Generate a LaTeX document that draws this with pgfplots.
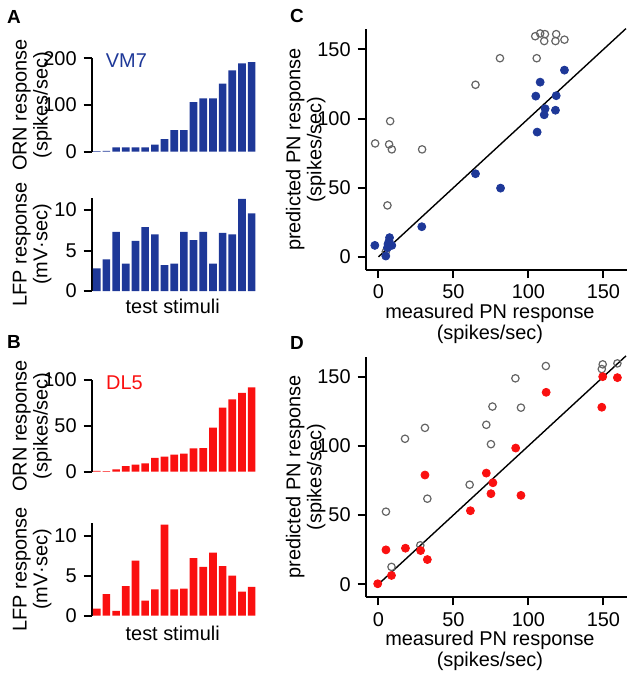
\documentclass[border=0pt]{standalone}
\usepackage{pgfplots}
\pgfplotsset{compat=1.18}
\usepackage{fontspec}
\setmainfont{Liberation Sans}

\definecolor{vmblue}{RGB}{30,56,152}
\definecolor{dlred}{RGB}{250,16,16}
\definecolor{ringgray}{RGB}{100,100,100}

\pgfplotsset{
  panel/.style={
    scale only axis,
    clip=false,
    axis line style={line width=1bp},
    major tick style={line width=1bp, black},
    major tick length=4bp,
    tick align=outside,
    tick label style={font=\fontsize{10}{12}\selectfont},
    label style={font=\fontsize{10}{10.5}\selectfont, align=center},
    /pgf/number format/assume math mode=true,
  },
  barpanel/.style={
    panel,
    width=82.65bp,
    axis y line*=left,
    axis x line=none,
    xmin=0.48, xmax=17.55,
    ymin=0,
    ybar,
    bar width=0.79,
    ylabel style={at={(axis description cs:-0.36,0.5)}, anchor=center},
  },
  scatpanel/.style={
    panel,
    width=130.5bp,
    height=120.35bp,
    axis lines*=left,
    xmin=-8.5, xmax=165.5,
    ymin=-9.5, ymax=164.5,
    xtick={0,50,100,150},
    ytick={0,50,100,150},
    xticklabel style={inner sep=0pt, yshift=-3.3bp},
    xlabel={measured PN response\\(spikes/sec)},
    ylabel={predicted PN response\\(spikes/sec)},
    xlabel style={at={(axis description cs:0.476,-0.222)}, anchor=center, inner sep=0pt},
    ylabel style={at={(axis description cs:-0.23,0.5)}, anchor=center},
  },
  grayring/.style={only marks, mark=o, mark size=1.85bp, ringgray, mark options={line width=0.6bp}},
}

\begin{document}
\begin{tikzpicture}
\useasboundingbox (0,0) rectangle (320bp,-338bp);

% panel letters
\node[font=\bfseries\fontsize{9.5}{11}\selectfont] at (7bp,-8.35bp) {A};
\node[font=\bfseries\fontsize{9.5}{11}\selectfont] at (7bp,-170.85bp) {B};
\node[font=\bfseries\fontsize{9.5}{11}\selectfont] at (148.5bp,-8.15bp) {C};
\node[font=\bfseries\fontsize{9.5}{11}\selectfont] at (148.5bp,-171.5bp) {D};

% A: VM7 ORN
\begin{axis}[barpanel, at={(45.85bp,-75.85bp)}, anchor=south west,
    height=46.7bp, ymax=200, ytick={0,100,200},
    ylabel={ORN response\\(spikes/sec)}]
\addplot[fill=vmblue, draw=none] coordinates {
  (1,1.5) (2,2) (3,9) (4,9) (5,9) (6,9) (7,15) (8,27) (9,46)
  (10,46) (11,106) (12,114) (13,114) (14,146) (15,174) (16,189) (17,192)};
\node[font=\fontsize{10}{12}\selectfont, text=vmblue] at (rel axis cs:0.21,0.98) {VM7};
\end{axis}

% A: VM7 LFP
\begin{axis}[barpanel, at={(45.85bp,-145.5bp)}, anchor=south west,
    height=46.5bp, ymax=11.5, ytick={0,5,10},
    ylabel={LFP response\\(mV·sec)}]
\addplot[fill=vmblue, draw=none] coordinates {
  (1,2.8) (2,3.9) (3,7.3) (4,3.4) (5,6.2) (6,7.9) (7,7.0) (8,3.2) (9,3.4)
  (10,7.3) (11,6.3) (12,7.3) (13,3.4) (14,7.2) (15,7.0) (16,11.4) (17,9.6)};
\node[font=\fontsize{10}{12}\selectfont] at (rel axis cs:0.49,-0.17) {test stimuli};
\end{axis}

% B: DL5 ORN
\begin{axis}[barpanel, at={(45.85bp,-235.85bp)}, anchor=south west,
    height=45.85bp, ymax=100, ytick={0,50,100},
    ylabel={ORN response\\(spikes/sec)}]
\addplot[fill=dlred, draw=none] coordinates {
  (1,1) (2,0.5) (3,2.5) (4,6) (5,7.6) (6,9) (7,15) (8,16.4) (9,18.5)
  (10,19.6) (11,25.5) (12,25.8) (13,48) (14,70) (15,79) (16,86) (17,92)};
\node[font=\fontsize{10}{12}\selectfont, text=dlred] at (rel axis cs:0.198,0.973) {DL5};
\end{axis}

% B: DL5 LFP
\begin{axis}[barpanel, at={(45.85bp,-307.85bp)}, anchor=south west,
    height=46.2bp, ymax=11.55, ytick={0,5,10},
    ylabel={LFP response\\(mV·sec)}]
\addplot[fill=dlred, draw=none] coordinates {
  (1,0.9) (2,2.7) (3,0.6) (4,3.7) (5,6.9) (6,1.9) (7,3.3) (8,11.4) (9,3.3)
  (10,3.4) (11,7.2) (12,6.1) (13,7.9) (14,6.2) (15,5.0) (16,3.0) (17,3.6)};
\node[font=\fontsize{10}{12}\selectfont] at (rel axis cs:0.49,-0.187) {test stimuli};
\end{axis}

% C: VM7 scatter
\begin{axis}[scatpanel, at={(182.85bp,-135bp)}, anchor=south west]
\addplot[grayring] coordinates {
  (104.5,159.5) (107.8,161.5) (111,161) (110.5,156) (118.5,161) (118,156)
  (124,157) (81,143.6) (105.5,143.6) (64.7,124.4) (7.8,98.1) (-2.2,82)
  (7.1,81.3) (8.9,77.7) (29.1,77.7) (6,37.2) (4.9,3.7)};
\addplot[black, line width=0.7bp] coordinates {(0,0) (165,165)};
\addplot[only marks, mark=*, mark size=2bp, vmblue] coordinates {
  (124,135) (107.8,126.3) (104.9,116.2) (118.5,116.5) (111.1,107.1)
  (110.5,102.7) (118,106) (105.8,90.2) (64.7,60.1) (81.4,49.7) (28.9,21.8)
  (-2.4,8.3) (7.4,13.9) (7.1,11.4) (8.9,8.3) (6,6.6) (4.9,0.6) (6.4,9.3)};
\end{axis}

% D: DL5 scatter
\begin{axis}[scatpanel, at={(182.85bp,-298.65bp)}, anchor=south west]
\addplot[grayring] coordinates {
  (149.5,158.9) (148.9,155.5) (159.3,159.6) (111.6,157.7) (91.3,148.8)
  (95,127.6) (76,128.4) (71.9,115.2) (75,101.2) (31,113) (17.7,105.1)
  (60.8,71.9) (32.6,61.8) (5,52.4) (27.9,28.1) (8.7,12.5)};
\addplot[black, line width=0.7bp] coordinates {(0,0) (165,165)};
\addplot[only marks, mark=*, mark size=2bp, dlred] coordinates {
  (149.5,150) (159.3,149.3) (148.9,127.9) (111.8,138.7) (91.5,98.4)
  (31,78.9) (71.9,80.3) (76.3,73.3) (75,65.4) (95,64.2) (61.3,53.1)
  (5,24.8) (18,26) (28.1,24.3) (32.6,17.8) (8.7,6.3) (-0.5,0.3)};
\end{axis}
\end{tikzpicture}
\end{document}
